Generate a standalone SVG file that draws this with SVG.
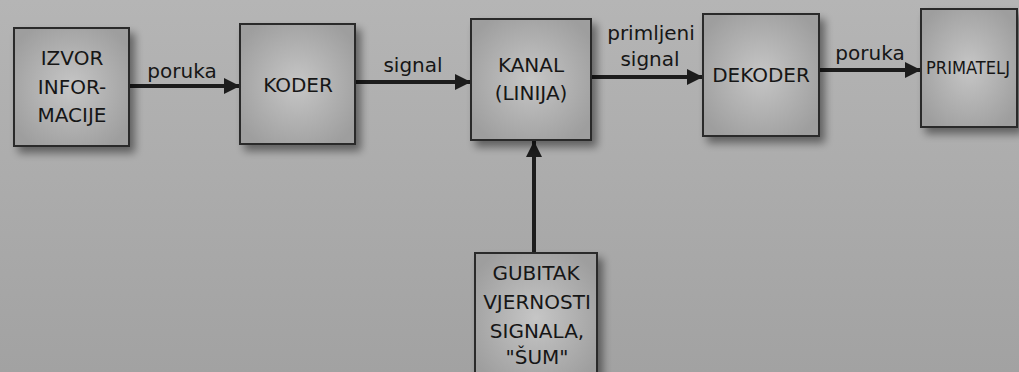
<svg xmlns="http://www.w3.org/2000/svg" width="1019" height="372" viewBox="0 0 1019 372">
<defs>
<linearGradient id="bg" x1="0" y1="0" x2="0" y2="1">
<stop offset="0" stop-color="#b5b5b5"/>
<stop offset="1" stop-color="#a2a2a2"/>
</linearGradient>
<radialGradient id="boxfill" cx="0.5" cy="0.5" r="0.6">
<stop offset="0" stop-color="#c6c6c6"/>
<stop offset="1" stop-color="#9e9e9e"/>
</radialGradient>
<filter id="shadow" x="-20%" y="-20%" width="150%" height="150%">
<feGaussianBlur in="SourceAlpha" stdDeviation="4"/>
<feOffset dx="5" dy="6" result="b"/>
<feComponentTransfer><feFuncA type="linear" slope="0.45"/></feComponentTransfer>
<feMerge><feMergeNode/><feMergeNode in="SourceGraphic"/></feMerge>
</filter>
<marker id="arr" viewBox="0 0 10 10" refX="10" refY="5" markerWidth="5.5" markerHeight="4" markerUnits="strokeWidth" orient="auto">
<path d="M0,0 L10,5 L0,10 z" fill="#1c1c1c"/>
</marker>
<style>
.box{fill:url(#boxfill);stroke:#2a2a2a;stroke-width:2;filter:url(#shadow)}
.t{font-family:"DejaVu Sans",sans-serif;font-size:20px;fill:#161616;text-anchor:middle}
.s{font-size:17px}
.c{stroke:#1c1c1c;stroke-width:4;fill:none;marker-end:url(#arr)}
</style>
</defs>
<rect width="1019" height="372" fill="url(#bg)"/>
<g id="connectors">
<line class="c" x1="129" y1="86" x2="240" y2="86"/>
<line class="c" x1="355" y1="82" x2="471" y2="82"/>
<line class="c" x1="591" y1="77" x2="703" y2="77"/>
<line class="c" x1="819" y1="70" x2="921" y2="70"/>
<line class="c" x1="534" y1="253" x2="534" y2="141"/>
<text class="t" x="182" y="78">poruka</text>
<text class="t" x="413" y="72">signal</text>
<text class="t" x="651" y="40">primljeni</text>
<text class="t" x="650" y="66">signal</text>
<text class="t" x="870" y="60">poruka</text>
</g>
<g id="izvor">
<rect class="box" x="14" y="28" width="115" height="118"/>
<text class="t" x="72" y="65">IZVOR</text>
<text class="t" x="72" y="94">INFOR-</text>
<text class="t" x="72" y="122">MACIJE</text>
</g>
<g id="koder">
<rect class="box" x="240" y="24" width="115" height="120"/>
<text class="t" x="298" y="92">KODER</text>
</g>
<g id="kanal">
<rect class="box" x="471" y="19" width="120" height="121"/>
<text class="t" x="531" y="72">KANAL</text>
<text class="t" x="531" y="100">(LINIJA)</text>
</g>
<g id="dekoder">
<rect class="box" x="703" y="14" width="116" height="122"/>
<text class="t" x="761" y="82">DEKODER</text>
</g>
<g id="primatelj">
<rect class="box" x="921" y="9" width="96" height="118"/>
<text class="t s" x="968" y="74" textLength="84" lengthAdjust="spacingAndGlyphs">PRIMATELJ</text>
</g>
<g id="gubitak">
<rect class="box" x="475" y="253" width="122" height="130"/>
<text class="t" x="536" y="280">GUBITAK</text>
<text class="t" x="537" y="309">VJERNOSTI</text>
<text class="t" x="537" y="338">SIGNALA,</text>
<text class="t" x="537" y="364">"ŠUM"</text>
</g>
</svg>
